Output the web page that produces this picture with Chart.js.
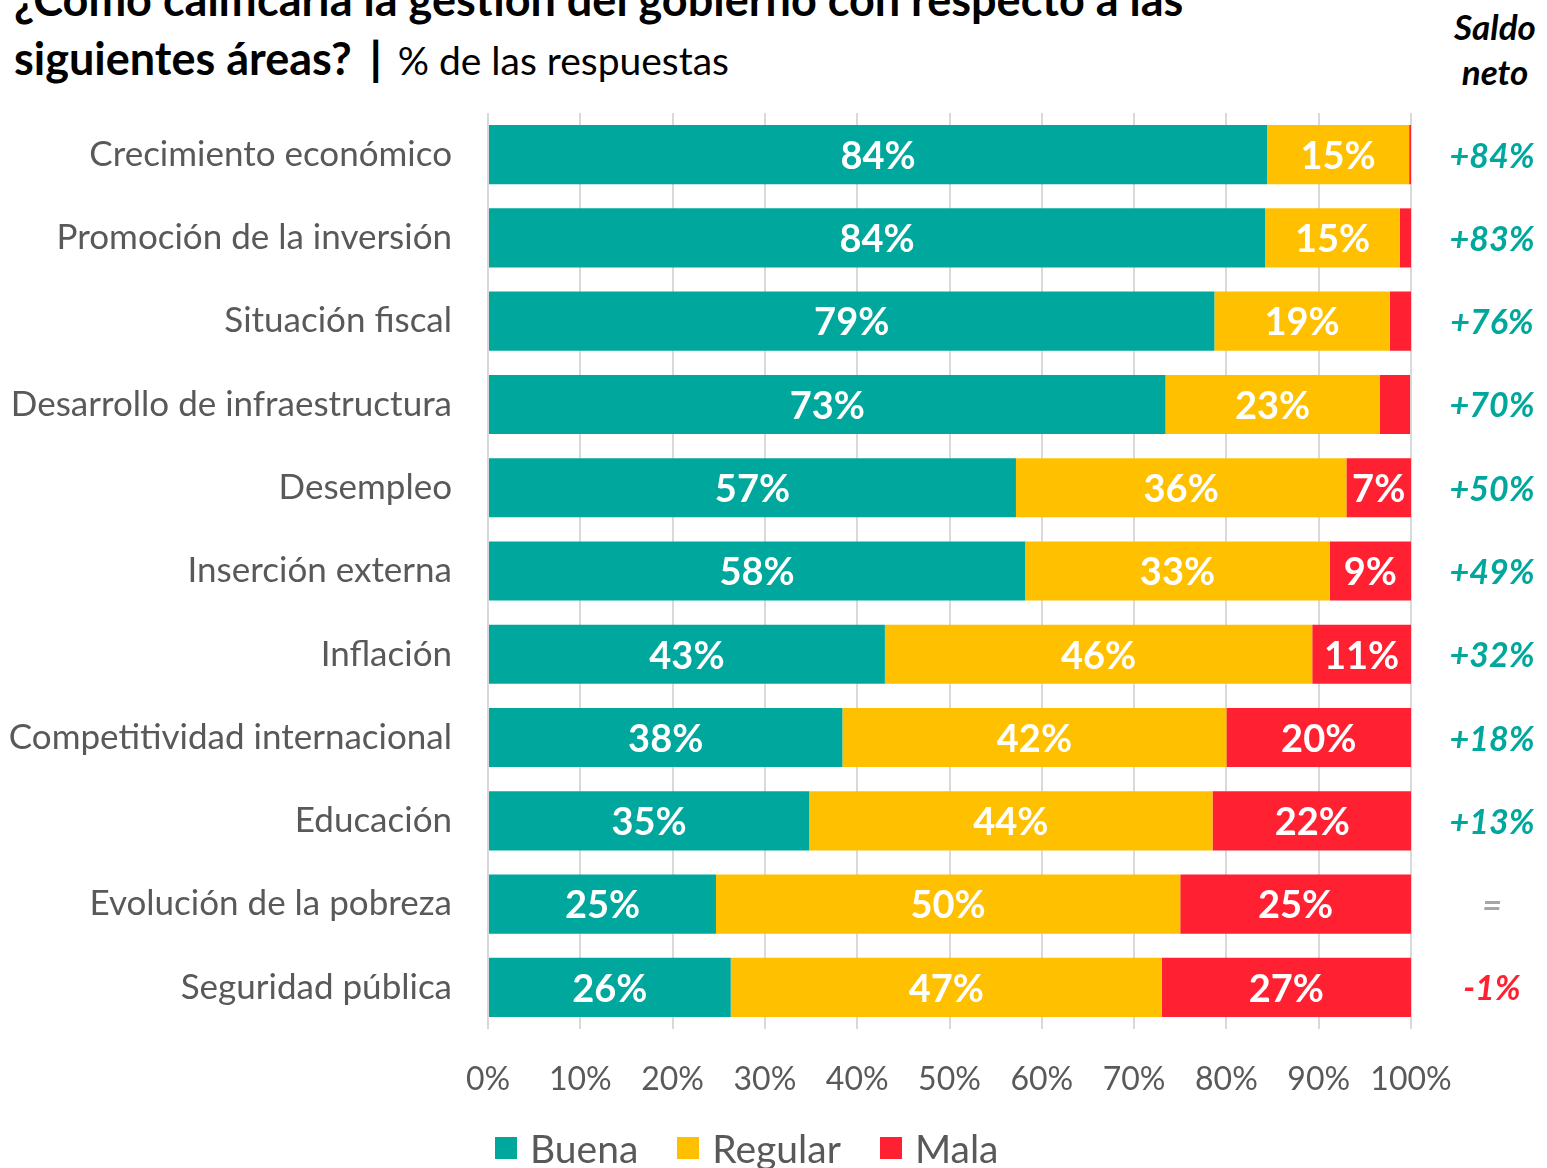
<!DOCTYPE html>
<html lang="es">
<head>
<meta charset="UTF-8">
<title>Gestión del gobierno</title>
<script src="https://cdn.jsdelivr.net/npm/chart.js"></script>
<style>
  html, body { margin: 0; padding: 0; background: #fff; }
  body { width: 1547px; height: 1168px; position: relative; overflow: hidden; font-family: Lato, "Open Sans", sans-serif; }
  .title { position: absolute; left: 14px; color: #000; white-space: nowrap; }
  .t1 { top: -28px; font-size: 45px; font-weight: bold; }
  .t2 { top: 31px; font-size: 45px; font-weight: bold; }
  .t2 .bar { margin-left: 18px; font-weight: 900; }
  .t2 .sub { font-weight: normal; font-size: 39px; margin-left: 16px; }
  .saldo { position: absolute; left: 1445px; top: 4px; width: 100px; text-align: center; font-size: 35px; font-weight: bold; font-style: italic; line-height: 45px; color: #000; }
  #wrap { position: absolute; left: 0; top: 0; width: 1547px; height: 1168px; }
  #legend { position: absolute; left: 495px; top: 1124px; display: flex; align-items: center; font-size: 39px; color: #595959; line-height: 48px; }
  #legend .item { display: flex; align-items: center; margin-right: 39px; }
  #legend .box { width: 22px; height: 22px; margin-right: 13px; }
</style>
</head>
<body>
<div class="title t1">¿Cómo calificaría la gestión del gobierno con respecto a las</div>
<div class="title t2">siguientes áreas?<span class="bar">|</span><span class="sub">% de las respuestas</span></div>
<div class="saldo">Saldo<br>neto</div>
<div id="wrap"><canvas id="chart"></canvas></div>
<div id="legend"></div>

<script>
// categorías y valores (% de respuestas)
const areas = [
    'Crecimiento económico',
    'Promoción de la inversión',
    'Situación fiscal',
    'Desarrollo de infraestructura',
    'Desempleo',
    'Inserción externa',
    'Inflación',
    'Competitividad internacional',
    'Educación',
    'Evolución de la pobreza',
    'Seguridad pública'
];
const buena   = [84.4, 84.2, 78.7, 73.4, 57.2, 58.2, 43.0, 38.4, 34.8, 24.7, 26.3];
const regular = [15.4, 14.6, 19.0, 23.2, 35.8, 33.0, 46.3, 41.6, 43.7, 50.3, 46.7];
const mala    = [0.2, 1.3, 2.3, 3.3, 7.0, 8.8, 10.7, 20.0, 21.6, 25.0, 27.0];
const saldoNeto = ['+84%', '+83%', '+76%', '+70%', '+50%', '+49%', '+32%', '+18%', '+13%', '=', '-1%'];
const xTicks = [0, 10, 20, 30, 40, 50, 60, 70, 80, 90, 100];

const TEAL = '#00A79D';
const YELLOW = '#FFC000';
const RED = '#FF2132';
const GRAY = '#595959';

// etiquetas blancas dentro de cada segmento
const segmentLabels = {
    id: 'segmentLabels',
    afterDatasetsDraw(chart) {
        const ctx = chart.ctx;
        ctx.save();
        ctx.font = 'bold 38px Lato, sans-serif';
        ctx.fillStyle = '#fff';
        ctx.textAlign = 'center';
        ctx.textBaseline = 'middle';
        chart.data.datasets.forEach((ds, i) => {
            chart.getDatasetMeta(i).data.forEach((bar, j) => {
                const v = ds.data[j];
                if (v < 5) return;
                const cx = (bar.x + bar.base) / 2;
                ctx.fillText(Math.round(v) + '%', cx, bar.y + 2);
            });
        });
        ctx.restore();
    }
};

// columna de saldo neto a la derecha
const netLabels = {
    id: 'netLabels',
    afterDraw(chart) {
        const ctx = chart.ctx;
        const y = chart.scales.y;
        ctx.save();
        ctx.font = 'italic bold 34px Lato, sans-serif';
        ctx.textAlign = 'center';
        ctx.textBaseline = 'middle';
        saldoNeto.forEach((s, i) => {
            let c = TEAL;
            if (s === '=') c = '#A6A6A6';
            else if (s.startsWith('-')) c = RED;
            ctx.fillStyle = c;
            ctx.fillText(s, 1492, y.getPixelForValue(i) + 2);
        });
        ctx.restore();
    }
};

const chart = new Chart(document.getElementById('chart'), {
    type: 'bar',
    data: {
        labels: areas,
        datasets: [
            { label: 'Buena', data: buena, backgroundColor: TEAL },
            { label: 'Regular', data: regular, backgroundColor: YELLOW },
            { label: 'Mala', data: mala, backgroundColor: RED }
        ]
    },
    options: {
        indexAxis: 'y',
        responsive: true,
        maintainAspectRatio: false,
        animation: false,
        barPercentage: 0.71,
        categoryPercentage: 1.0,
        layout: { padding: { top: 113, right: 136, left: 0, bottom: 0 } },
        plugins: {
            legend: { display: false },
            tooltip: { enabled: false }
        },
        scales: {
            x: {
                stacked: true,
                min: 0,
                max: 100,
                afterBuildTicks(scale) { scale.ticks = xTicks.map(v => ({ value: v })); },
                afterFit(scale) { scale.height = 139; },
                grid: { color: '#D9D9D9', lineWidth: 2, drawTicks: false },
                border: { display: false },
                ticks: {
                    padding: 31,
                    color: GRAY,
                    font: { size: 32, family: 'Lato, sans-serif' },
                    callback: v => v + '%'
                }
            },
            y: {
                stacked: true,
                afterFit(scale) { scale.width = 488; },
                grid: { display: false },
                border: { display: false },
                ticks: {
                    padding: 28,
                    color: GRAY,
                    font: { size: 35, family: 'Lato, sans-serif' }
                }
            }
        }
    },
    plugins: [segmentLabels, netLabels]
});

// leyenda a partir de los datasets
const legend = document.getElementById('legend');
chart.data.datasets.forEach(ds => {
    const item = document.createElement('div');
    item.className = 'item';
    const box = document.createElement('span');
    box.className = 'box';
    box.style.background = ds.backgroundColor;
    item.appendChild(box);
    item.appendChild(document.createTextNode(ds.label));
    legend.appendChild(item);
});
</script>
</body>
</html>
